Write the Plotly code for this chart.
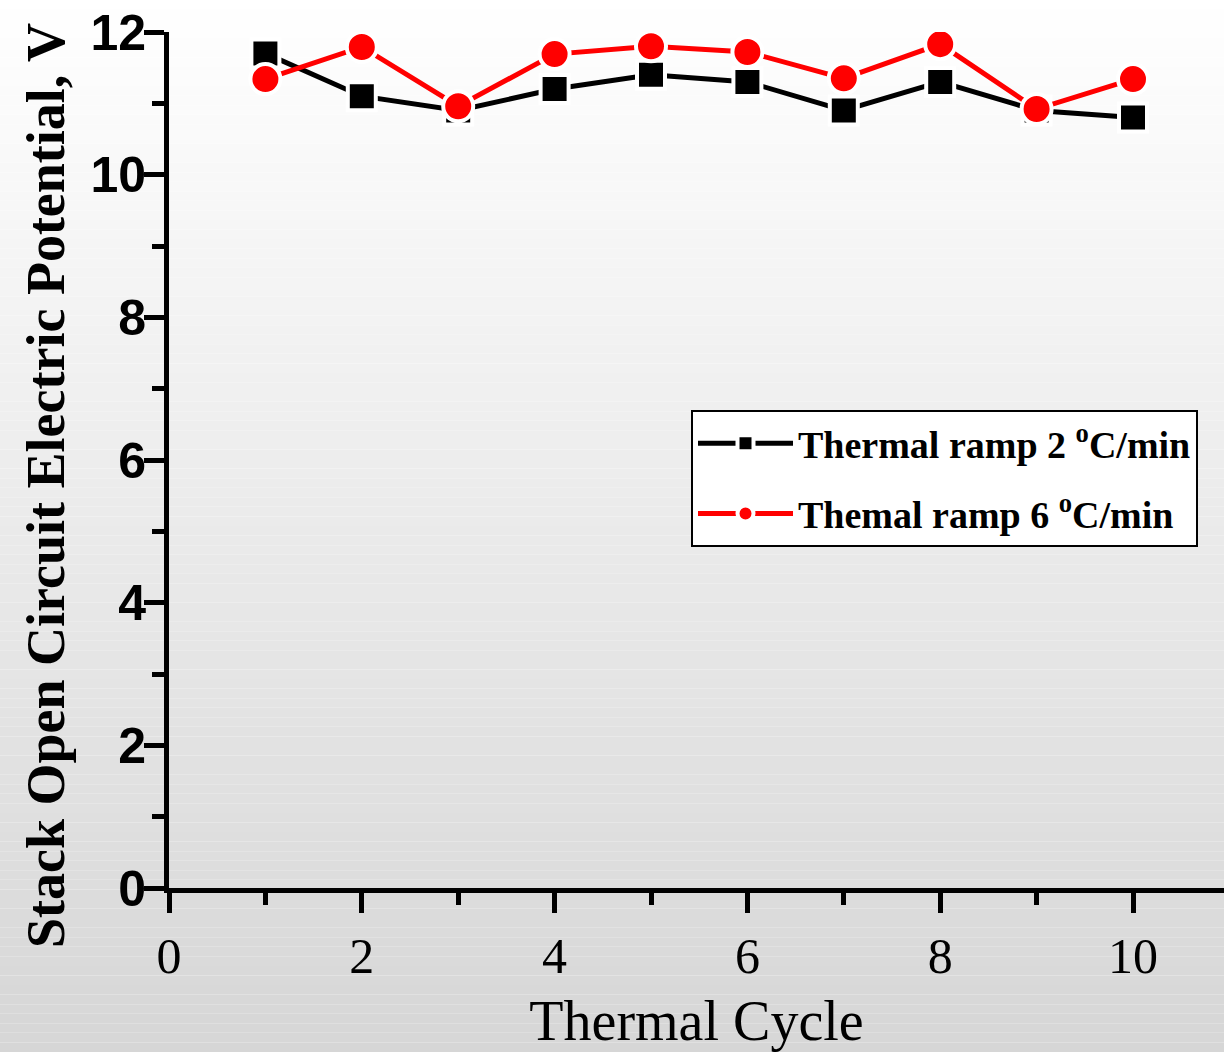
import plotly.graph_objects as go

cycles = [1, 2, 3, 4, 5, 6, 7, 8, 9, 10]
ramp2 = [11.7, 11.1, 10.9, 11.2, 11.4, 11.3, 10.9, 11.3, 10.9, 10.8]
ramp6 = [11.34, 11.79, 10.96, 11.69, 11.8, 11.72, 11.35, 11.83, 10.92, 11.34]
names = ["Thermal ramp 2 <sup>o</sup>C/min", "Themal ramp 6 <sup>o</sup>C/min"]

W, H = 1224, 1052
ML, MR, MT, MB = 169, 0, 32, 164
pw, ph = W - ML - MR, H - MT - MB

fig = go.Figure()
fig.add_trace(go.Scatter(
    x=cycles, y=ramp2, name=names[0], mode="lines+markers", legendgroup="a",
    line=dict(color="black", width=5),
    marker=dict(symbol="square", size=28, color="black", line=dict(color="white", width=4)),
))
fig.add_trace(go.Scatter(
    x=cycles, y=ramp6, name=names[1], mode="lines+markers", legendgroup="b",
    line=dict(color="#ff0000", width=5),
    marker=dict(symbol="circle", size=30, color="#ff0000", line=dict(color="white", width=4)),
))

# vertical gradient background
n = 110
shapes = []
for i in range(n):
    y0p = i * H / n
    y1p = (i + 1) * H / n
    g = int(round(255 - (255 - 214) * ((i + 0.5) / n)))
    shapes.append(dict(
        type="rect", xref="paper", yref="paper", layer="below",
        x0=(0 - ML) / pw, x1=(W - ML) / pw,
        y0=(H - MB - y1p) / ph, y1=(H - MB - y0p) / ph,
        fillcolor=f"rgb({g},{g},{g})", line=dict(width=0),
    ))

fig.update_layout(
    width=W, height=H,
    margin=dict(l=ML, r=MR, t=MT, b=MB, pad=0),
    paper_bgcolor="rgba(0,0,0,0)", plot_bgcolor="rgba(0,0,0,0)",
    shapes=shapes,
    showlegend=True,
    legend=dict(
        x=(691 - ML) / pw, y=(H - MB - 410) / ph, xanchor="left", yanchor="top",
        bgcolor="white", bordercolor="black", borderwidth=2,
        font=dict(family="Liberation Serif", size=38, color="black", weight="bold"),
        tracegroupgap=18, itemwidth=95,
    ),
    xaxis=dict(
        range=[0, (W - ML) / 96.4], tickvals=[0, 2, 4, 6, 8, 10],
        showgrid=False, zeroline=False, showline=True, linecolor="black", linewidth=5,
        ticks="outside", ticklen=20, tickwidth=5, tickcolor="black",
        tickfont=dict(family="Liberation Serif", size=50, color="black"),
        minor=dict(tickvals=[1, 3, 5, 7, 9], ticks="outside", ticklen=12, tickwidth=5, tickcolor="black"),
        title=dict(text="Thermal Cycle", font=dict(family="Liberation Serif", size=56, color="black"), standoff=24),
    ),
    yaxis=dict(
        range=[0, 12], tickvals=[0, 2, 4, 6, 8, 10, 12],
        showgrid=False, zeroline=False, showline=True, linecolor="black", linewidth=5,
        ticks="outside", ticklen=20, tickwidth=5, tickcolor="black",
        ticklabelstandoff=-12,
        tickfont=dict(family="Liberation Sans", size=50, color="black", weight="bold"),
        minor=dict(tickvals=[1, 3, 5, 7, 9, 11], ticks="outside", ticklen=12, tickwidth=5, tickcolor="black"),
    ),
    annotations=[dict(
        text="Stack Open Circuit Electric Potential, V", xref="paper", yref="paper",
        x=(46 - ML) / pw, y=(H - MB - 486) / ph, xanchor="center", yanchor="middle",
        textangle=-90, showarrow=False,
        font=dict(family="Liberation Serif", size=54, color="black", weight="bold"),
    )],
)

fig.write_html("out.html", config={"displayModeBar": False},
               post_script="document.body.style.margin='0px';document.body.style.padding='0px';")
